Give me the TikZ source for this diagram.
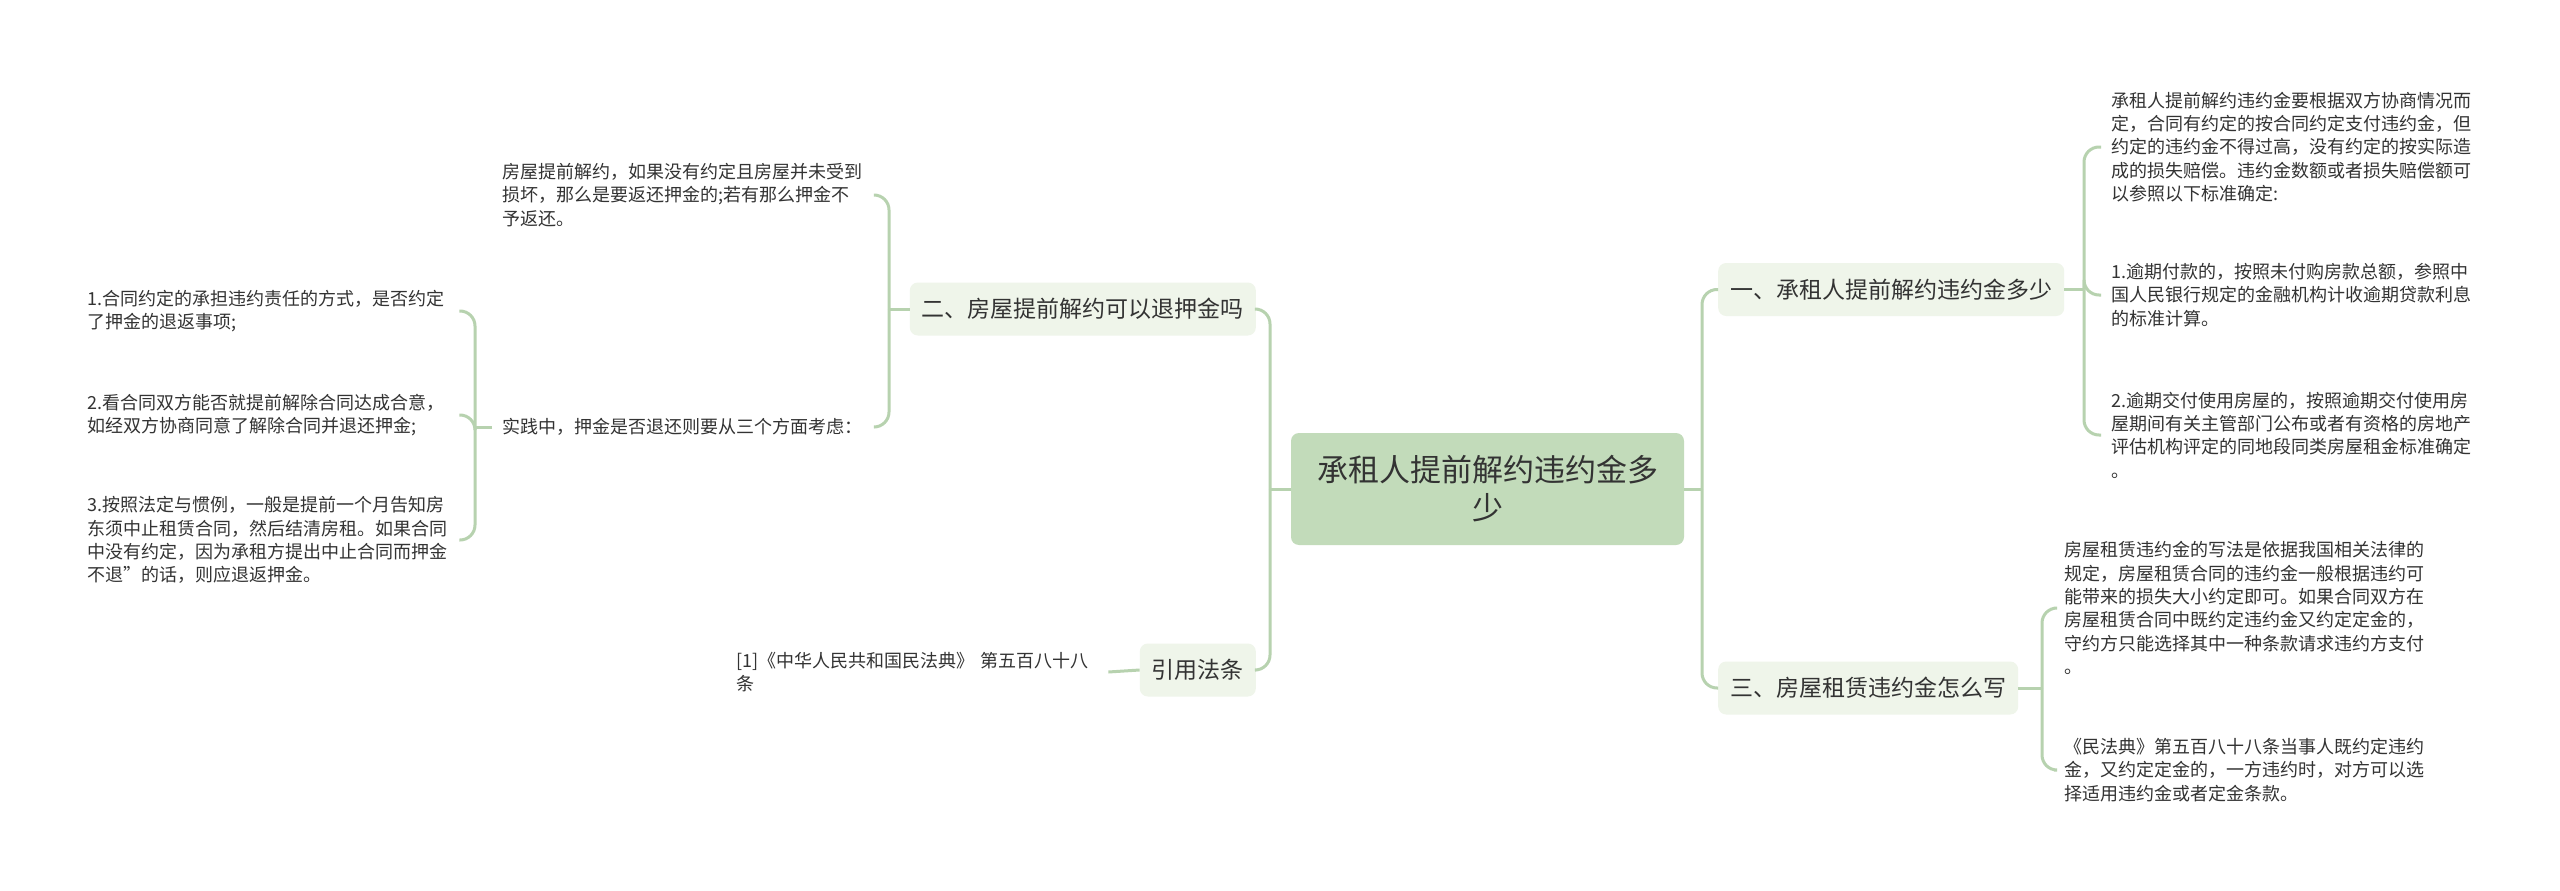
\documentclass[tikz,border=0pt]{standalone}
\usepackage{fontspec}
\setmainfont{Noto Sans CJK SC}
\definecolor{lineG}{HTML}{B7D2AF}
\definecolor{rootF}{HTML}{C2DBBA}
\definecolor{brF}{HTML}{EFF5EA}
\definecolor{txt}{HTML}{333333}
\begin{document}
\begin{tikzpicture}[x=1pt,y=-1pt,
  conn/.style={draw=lineG, line width=3pt, rounded corners=15pt},
  rootbox/.style={fill=rootF, rounded corners=8pt, text width=345pt, align=center,
    minimum height=112pt, inner xsep=24pt, text=txt,
    font=\fontsize{31pt}{38pt}\selectfont},
  brbox/.style={fill=brF, rounded corners=8pt, minimum height=53pt, inner xsep=12pt,
    text=txt, font=\fontsize{23pt}{28pt}\selectfont},
  leaf/.style={text width=362pt, align=left, inner xsep=10pt, inner ysep=4pt,
    text=txt, font=\fontsize{18pt}{23.3pt}\selectfont}
]
\useasboundingbox (0,0) rectangle (2560,891);
\fill[white] (0,0) rectangle (2560,891);

% root
\node[rootbox] (root) at (1487.5,489) {承租人提前解约违约金多\\少};

% branches
\node[brbox, anchor=west] (b1) at (1718,289.5) {一、承租人提前解约违约金多少};
\node[brbox, anchor=west] (b3) at (1718,688) {三、房屋租赁违约金怎么写};
\node[brbox, anchor=east] (b2) at (1256,309) {二、房屋提前解约可以退押金吗};
\node[brbox, anchor=east] (b4) at (1256,670) {引用法条};

% leaves of b1
\node[leaf, anchor=west] (c1) at (2101,147) {承租人提前解约违约金要根据双方协商情况而\\定，合同有约定的按合同约定支付违约金，但\\约定的违约金不得过高，没有约定的按实际造\\成的损失赔偿。违约金数额或者损失赔偿额可\\以参照以下标准确定:};
\node[leaf, anchor=west] (c2) at (2101,295) {1.逾期付款的，按照未付购房款总额，参照中\\国人民银行规定的金融机构计收逾期贷款利息\\的标准计算。};
\node[leaf, anchor=west] (c3) at (2101,435) {2.逾期交付使用房屋的，按照逾期交付使用房\\屋期间有关主管部门公布或者有资格的房地产\\评估机构评定的同地段同类房屋租金标准确定\\。};

% leaves of b3
\node[leaf, anchor=west] (f1) at (2054,608) {房屋租赁违约金的写法是依据我国相关法律的\\规定，房屋租赁合同的违约金一般根据违约可\\能带来的损失大小约定即可。如果合同双方在\\房屋租赁合同中既约定违约金又约定定金的，\\守约方只能选择其中一种条款请求违约方支付\\。};
\node[leaf, anchor=west] (f2) at (2054,770) {《民法典》第五百八十八条当事人既约定违约\\金，又约定定金的，一方违约时，对方可以选\\择适用违约金或者定金条款。};

% leaves of b2
\node[leaf, anchor=west] (d1) at (492,195) {房屋提前解约，如果没有约定且房屋并未受到\\损坏，那么是要返还押金的;若有那么押金不\\予返还。};
\node[leaf, anchor=west] (d2) at (492,427) {实践中，押金是否退还则要从三个方面考虑：};

% leaves of d2
\node[leaf, anchor=west] (g1) at (77,311) {1.合同约定的承担违约责任的方式，是否约定\\了押金的退返事项;};
\node[leaf, anchor=west] (g2) at (77,415) {2.看合同双方能否就提前解除合同达成合意，\\如经双方协商同意了解除合同并退还押金;};
\node[leaf, anchor=west] (g3) at (77,540) {3.按照法定与惯例，一般是提前一个月告知房\\东须中止租赁合同，然后结清房租。如果合同\\中没有约定，因为承租方提出中止合同而押金\\不退”的话，则应退返押金。};

% leaf of b4
\node[leaf, anchor=west] (e1) at (726,672) {[1]《中华人民共和国民法典》 第五百八十八\\条};

% junctions
\coordinate (jR) at (1702,489);
\coordinate (jL) at (1270,489);
\coordinate (j1) at (2084,289.5);
\coordinate (j3) at (2042,688);
\coordinate (j2) at (889,309);
\coordinate (j4) at (475,427);

% connectors
\draw[conn] (root.east) -- (jR);
\draw[conn] (jR) |- (b1.west);
\draw[conn] (jR) |- (b3.west);
\draw[conn] (root.west) -- (jL);
\draw[conn] (jL) |- (b2.east);
\draw[conn] (jL) |- (b4.east);

\draw[conn] (b1.east) -- (j1);
\draw[conn] (j1) |- (c1.west);
\draw[conn] (j1) |- (c2.west);
\draw[conn] (j1) |- (c3.west);

\draw[conn] (b3.east) -- (j3);
\draw[conn] (j3) |- (f1.west);
\draw[conn] (j3) |- (f2.west);

\draw[conn] (b2.west) -- (j2);
\draw[conn] (j2) |- (d1.east);
\draw[conn] (j2) |- (d2.east);

\draw[conn] (d2.west) -- (j4);
\draw[conn] (j4) |- (g1.east);
\draw[conn] (j4) |- (g2.east);
\draw[conn] (j4) |- (g3.east);

\draw[conn] (b4.west) -- (e1.east);
\end{tikzpicture}
\end{document}
